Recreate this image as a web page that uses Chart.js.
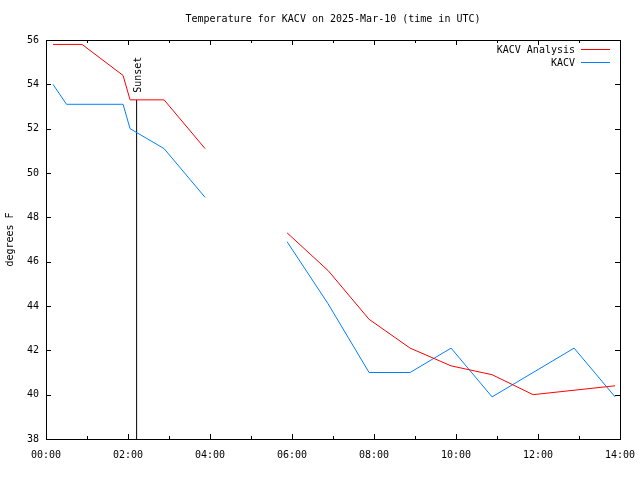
<!DOCTYPE html>
<html>
<head>
<meta charset="utf-8">
<script src="https://cdn.jsdelivr.net/npm/chart.js@4"></script>
<style>
  html, body { margin: 0; padding: 0; background: #fff; }
  canvas { display: block; }
</style>
</head>
<body>
<canvas id="tempChart" width="640" height="480"></canvas>
<script>
// hours after 00:00 UTC (null = gap in the record)
const analysisHours = [0.17, 0.88, 1.88, 2.05, 2.88, 3.88, 4.9, 5.88, 6.88, 7.88, 8.88, 9.88, 10.88, 11.88, 12.88, 13.88];
const analysisTemps = [55.8, 55.8, 54.4, 53.3, 53.3, 51.1, null, 47.3, 45.6, 43.4, 42.1, 41.3, 40.9, 40.0, 40.2, 40.4];

const obsHours = [0.17, 0.5, 1.88, 2.05, 2.88, 3.88, 4.9, 5.88, 6.88, 7.88, 8.88, 9.88, 10.88, 11.88, 12.88, 13.88];
const obsTemps = [54.0, 53.1, 53.1, 52.0, 51.1, 48.9, null, 46.9, 44.1, 41.0, 41.0, 42.1, 39.9, 41.0, 42.1, 39.9];

const sunsetHour = 2.21;
const sunsetTop = 53.3;

const xTickLabels = ["00:00", "02:00", "04:00", "06:00", "08:00", "10:00", "12:00", "14:00"];
const titleText = "Temperature for KACV on 2025-Mar-10 (time in UTC)";
const seriesNames = ["KACV Analysis", "KACV"];
const seriesColors = ["#ff0000", "#0080ff"];

const FONT = "10px 'DejaVu Sans Mono', monospace";

function toPoints(xs, ys) {
  return xs.map((x, i) => ({ x: x, y: ys[i] }));
}

// frame, inward ticks, labels and the key, drawn like gnuplot does
const gnuplotFrame = {
  id: "gnuplotFrame",
  afterDraw(chart) {
    const ctx = chart.ctx;
    const a = chart.chartArea;
    const xs = chart.scales.x;
    const ys = chart.scales.y;
    ctx.save();
    ctx.strokeStyle = "#000";
    ctx.lineWidth = 1;
    ctx.strokeRect(Math.round(a.left) + 0.5, Math.round(a.top) + 0.5,
      Math.round(a.right - a.left), Math.round(a.bottom - a.top));

    ctx.beginPath();
    for (let h = 0; h <= 14; h++) {
      const px = Math.round(xs.getPixelForValue(h)) + 0.5;
      const len = h % 2 === 0 ? 5 : 3;
      ctx.moveTo(px, a.bottom);
      ctx.lineTo(px, a.bottom - len);
      ctx.moveTo(px, a.top);
      ctx.lineTo(px, a.top + len);
    }
    for (let v = 38; v <= 56; v += 2) {
      const py = Math.round(ys.getPixelForValue(v)) + 0.5;
      ctx.moveTo(a.left, py);
      ctx.lineTo(a.left + 5, py);
      ctx.moveTo(a.right, py);
      ctx.lineTo(a.right - 5, py);
    }
    ctx.stroke();

    ctx.fillStyle = "#000";
    ctx.font = FONT;

    // title
    ctx.textAlign = "center";
    ctx.textBaseline = "middle";
    ctx.fillText(titleText, (a.left + a.right) / 2, 19);

    // y axis title
    ctx.save();
    ctx.translate(10, (a.top + a.bottom) / 2);
    ctx.rotate(-Math.PI / 2);
    ctx.fillText("degrees F", 0, 0);
    ctx.restore();

    // sunset label
    ctx.save();
    ctx.translate(xs.getPixelForValue(sunsetHour) + 2, ys.getPixelForValue(sunsetTop) - 7);
    ctx.rotate(-Math.PI / 2);
    ctx.textAlign = "left";
    ctx.fillText("Sunset", 0, 0);
    ctx.restore();

    // key
    const keyRows = [50, 63];
    seriesNames.forEach((name, i) => {
      ctx.textAlign = "right";
      ctx.fillStyle = "#000";
      ctx.fillText(name, 575, keyRows[i]);
      ctx.strokeStyle = seriesColors[i];
      ctx.beginPath();
      ctx.moveTo(581, keyRows[i] - 0.5);
      ctx.lineTo(610, keyRows[i] - 0.5);
      ctx.stroke();
    });
    ctx.restore();
  }
};

new Chart(document.getElementById("tempChart").getContext("2d"), {
  type: "line",
  data: {
    datasets: [
      {
        label: seriesNames[0],
        data: toPoints(analysisHours, analysisTemps),
        borderColor: seriesColors[0],
        borderWidth: 1,
        pointRadius: 0,
        tension: 0,
        spanGaps: false,
      },
      {
        label: seriesNames[1],
        data: toPoints(obsHours, obsTemps),
        borderColor: seriesColors[1],
        borderWidth: 1,
        pointRadius: 0,
        tension: 0,
        spanGaps: false,
      },
      {
        label: "Sunset",
        data: toPoints([sunsetHour, sunsetHour], [38, sunsetTop]),
        borderColor: "#000",
        borderWidth: 1,
        pointRadius: 0,
      },
    ],
  },
  options: {
    responsive: false,
    animation: false,
    layout: { padding: { left: 0, top: 40, right: 20, bottom: 0 } },
    plugins: {
      legend: { display: false },
      title: { display: false },
      tooltip: { enabled: false },
    },
    scales: {
      x: {
        type: "linear",
        min: 0,
        max: 14,
        afterFit: (scale) => {
          scale.height = 41;
          scale.paddingLeft = 0;
          scale.paddingRight = 0;
        },
        grid: { display: false, drawTicks: false },
        border: { display: false },
        ticks: {
          stepSize: 2,
          padding: 10,
          color: "#000",
          maxRotation: 0,
          font: { family: "'DejaVu Sans Mono', monospace", size: 10 },
          callback: (v) => xTickLabels[v / 2],
        },
      },
      y: {
        min: 38,
        max: 56,
        afterFit: (scale) => {
          scale.width = 46;
          scale.paddingTop = 0;
          scale.paddingBottom = 0;
        },
        grid: { display: false, drawTicks: false },
        border: { display: false },
        ticks: {
          stepSize: 2,
          padding: 7,
          color: "#000",
          font: { family: "'DejaVu Sans Mono', monospace", size: 10 },
        },
      },
    },
  },
  plugins: [gnuplotFrame],
});
</script>
</body>
</html>
